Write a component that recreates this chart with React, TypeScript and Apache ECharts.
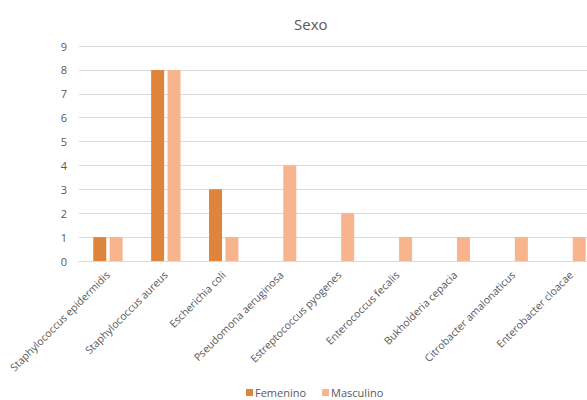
import React, { useEffect, useRef } from "react";
import * as echarts from "echarts";

const categories = [
  "Staphylococcus epidermidis",
  "Staphylococcus aureus",
  "Escherichia coli",
  "Pseudomona aeruginosa",
  "Estreptococcus pyogenes",
  "Enterococcus fecalis",
  "Bukholderia cepacia",
  "Citrobacter amalonaticus",
  "Enterobacter cloacae",
];
const femenino = [1, 8, 3, null, null, null, null, null, null];
const masculino = [1, 8, 1, 4, 2, 1, 1, 1, 1];
const yTicks = { min: 0, max: 9, interval: 1 };

const FONT = "'Open Sans', sans-serif";
const TEXT = "#595959";

export default function App() {
  const ref = useRef<HTMLDivElement>(null);
  useEffect(() => {
    if (!ref.current) return;
    const chart = echarts.init(ref.current, null, { renderer: "svg" });
    chart.setOption({
      animation: false,
      backgroundColor: "#ffffff",
      textStyle: { fontFamily: FONT },
      title: {
        text: "Sexo",
        left: 289,
        top: 11,
        textStyle: { fontFamily: FONT, fontSize: 15, fontWeight: "normal", color: TEXT },
      },
      legend: {
        data: ["Femenino", "Masculino"],
        left: 246,
        top: 387,
        padding: 0,
        icon: "rect",
        itemWidth: 7,
        itemHeight: 7,
        itemGap: 16,
        textStyle: { fontFamily: FONT, fontSize: 11, color: TEXT, padding: [0, 0, 0, -3] },
      },
      grid: {
        left: 79,
        top: 46,
        width: 521,
        height: 215,
        outerBoundsMode: "none",
        containLabel: false,
      },
      xAxis: {
        type: "category",
        data: categories,
        axisLine: { lineStyle: { color: "#d9d9d9" } },
        axisTick: { show: false },
        axisLabel: {
          rotate: 45,
          interval: 0,
          margin: 12,
          fontFamily: FONT,
          fontSize: 10.5,
          color: TEXT,
        },
      },
      yAxis: {
        type: "value",
        min: yTicks.min,
        max: yTicks.max,
        interval: yTicks.interval,
        axisLine: { show: false },
        axisTick: { show: false },
        splitLine: { lineStyle: { color: "#d9d9d9" } },
        axisLabel: { fontFamily: FONT, fontSize: 11, color: TEXT, margin: 12 },
      },
      series: [
        {
          name: "Femenino",
          type: "bar",
          data: femenino,
          barWidth: 13,
          barGap: "26%",
          itemStyle: { color: "#DF843B" },
        },
        {
          name: "Masculino",
          type: "bar",
          data: masculino,
          barWidth: 13,
          barGap: "26%",
          itemStyle: { color: "#F7B48D" },
        },
      ],
    });
    return () => chart.dispose();
  }, []);
  return <div ref={ref} style={{ width: 587, height: 400, position: "absolute", left: 0, top: 0 }} />;
}
